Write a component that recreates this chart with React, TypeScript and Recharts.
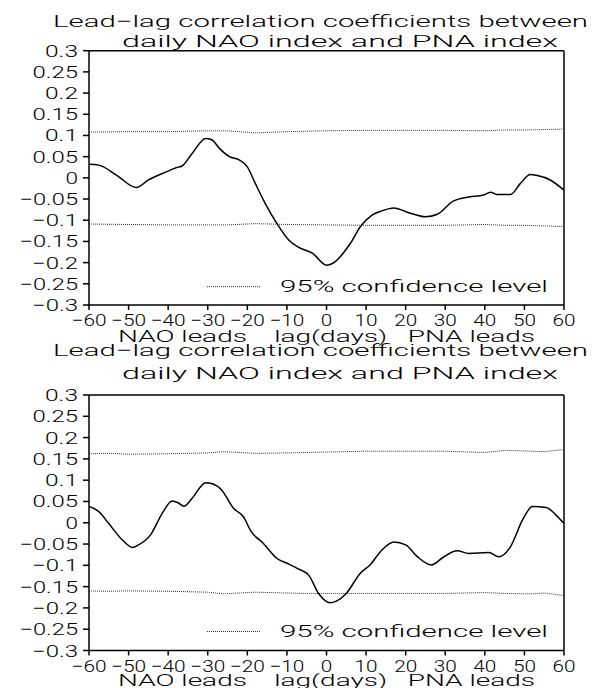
import React from "react";
import { Line, LineChart, ReferenceLine, XAxis, YAxis } from "recharts";

const FONT = 'Roboto, "Liberation Sans", Arial, sans-serif';
const WEIGHT = 300;

// axis ticks
const xTicks = [-60, -50, -40, -30, -20, -10, 0, 10, 20, 30, 40, 50, 60];
const yTicks = [
  -0.3, -0.25, -0.2, -0.15, -0.1, -0.05, 0, 0.05, 0.1, 0.15, 0.2, 0.25, 0.3,
];

// upper panel: correlation curve
const lagsTop = [
  -60, -57.5, -53, -48, -45, -40.5, -38, -36.5, -34, -30.5, -29, -27, -24.5,
  -22, -20, -18, -15.5, -12.5, -9.5, -7, -3.5, 0, 1.5, 6, 8.5, 11.5, 14, 17,
  21, 25, 28, 32, 36, 39.5, 41.5, 43, 46.5, 49, 51.5, 53, 56.5, 60,
];
const corrTop = [
  0.032, 0.03, 0.006, -0.023, -0.005, 0.014, 0.024, 0.028, 0.057, 0.093, 0.09,
  0.069, 0.05, 0.042, 0.026, -0.013, -0.06, -0.108, -0.147, -0.164, -0.178,
  -0.206, -0.202, -0.155, -0.116, -0.088, -0.078, -0.071, -0.083, -0.092,
  -0.086, -0.055, -0.045, -0.041, -0.034, -0.039, -0.039, -0.013, 0.008,
  0.006, -0.005, -0.029,
];
const confLagsTop = [-60, -50, -40, -30, -25, -18, -10, 0, 10, 20, 30, 40, 45, 50, 60];
const upperTop = [
  0.108, 0.109, 0.109, 0.111, 0.111, 0.106, 0.109, 0.111, 0.112, 0.112, 0.112,
  0.111, 0.113, 0.113, 0.115,
];
const lowerTop = [
  -0.109, -0.11, -0.111, -0.111, -0.111, -0.108, -0.11, -0.111, -0.112, -0.112,
  -0.112, -0.11, -0.112, -0.112, -0.115,
];

// lower panel
const lagsBot = [
  -60, -57.5, -55, -51.5, -49, -47.5, -44.5, -41.5, -39, -37.5, -36, -34, -30.5,
  -29, -26.5, -23.5, -21, -19, -16, -12.5, -9.5, -7, -4.5, -2, 1, 2.5, 5, 8.5,
  11, 14, 17, 20, 23, 26.5, 29.5, 33, 36, 41, 43.5, 46.5, 49.5, 52, 55.5, 58, 60,
];
const corrBot = [
  0.038, 0.026, -0.002, -0.041, -0.058, -0.052, -0.029, 0.022, 0.051, 0.047,
  0.039, 0.057, 0.094, 0.092, 0.077, 0.034, 0.014, -0.021, -0.048, -0.084,
  -0.097, -0.109, -0.123, -0.166, -0.188, -0.184, -0.166, -0.119, -0.099,
  -0.064, -0.045, -0.052, -0.08, -0.099, -0.081, -0.066, -0.072, -0.07, -0.08,
  -0.056, 0.006, 0.038, 0.036, 0.018, -0.002,
];
const confLagsBot = [-60, -55, -50, -40, -30, -26, -18, -10, -5, 10, 30, 40, 45, 52, 55, 60];
const upperBot = [
  0.162, 0.163, 0.161, 0.162, 0.164, 0.167, 0.163, 0.164, 0.165, 0.168, 0.168,
  0.165, 0.17, 0.168, 0.167, 0.172,
];
const lowerBot = [
  -0.16, -0.161, -0.16, -0.161, -0.163, -0.167, -0.163, -0.165, -0.166, -0.166,
  -0.166, -0.164, -0.166, -0.167, -0.165, -0.171,
];

const TITLE1 = "Lead\u2212lag correlation coefficients between";
const TITLE2 = "daily NAO index and PNA index";
const XLABEL = "NAO leads    lag(days)   PNA leads";
const LEGEND = "95% confidence level";

const fmt = (v: number) => String(v).replace("-", "\u2212");

// the original font is wide, so labels get stretched to a fixed width
const textW = (s: string, digit: number, minus: number) =>
  s.split("").reduce((w, c) => w + (c === "." ? 8 : c === "\u2212" ? minus : digit), 0);

function YTick(props: any) {
  const { x, y, payload } = props;
  const s = fmt(payload.value);
  return (
    <text
      x={x}
      y={y + 6}
      textAnchor="end"
      fontSize={16.5}
      fontFamily={FONT}
      fontWeight={WEIGHT}
      fill="#000"
      textLength={textW(s, 12.5, 13)}
      lengthAdjust="spacingAndGlyphs"
    >
      {s}
    </text>
  );
}

function XTick(props: any) {
  const { x, y, payload } = props;
  const s = fmt(payload.value);
  return (
    <text
      x={x}
      y={y + 16}
      textAnchor="middle"
      fontSize={16.5}
      fontFamily={FONT}
      fontWeight={WEIGHT}
      fill="#000"
      textLength={textW(s, 11.5, 12)}
      lengthAdjust="spacingAndGlyphs"
    >
      {s}
    </text>
  );
}

type PanelProps = {
  lags: number[];
  corr: number[];
  confLags: number[];
  upper: number[];
  lower: number[];
  plotTop: number;
  plotBottom: number;
};

function Panel({ lags, corr, confLags, upper, lower, plotTop, plotBottom }: PanelProps) {
  const main = lags.map((lag, i) => ({ lag, r: corr[i] }));
  const up = confLags.map((lag, i) => ({ lag, r: upper[i] }));
  const lo = confLags.map((lag, i) => ({ lag, r: lower[i] }));
  const axis = { stroke: "#000", strokeWidth: 1.5 };
  return (
    <LineChart
      width={599}
      height={344}
      margin={{ top: plotTop, right: 35, bottom: 0, left: 0 }}
    >
      <XAxis
        type="number"
        dataKey="lag"
        domain={[-60, 60]}
        ticks={xTicks}
        interval={0}
        allowDataOverflow
        height={344 - plotBottom}
        tickSize={5}
        tickMargin={0}
        axisLine={axis}
        tickLine={axis}
        tick={<XTick />}
      />
      <YAxis
        type="number"
        domain={[-0.3, 0.3]}
        ticks={yTicks}
        interval={0}
        allowDataOverflow
        width={89}
        tickSize={6}
        tickMargin={5}
        axisLine={axis}
        tickLine={axis}
        tick={<YTick />}
      />
      <ReferenceLine y={0.3} stroke="#000" strokeWidth={1.5} />
      <ReferenceLine x={60} stroke="#000" strokeWidth={1.5} />
      <Line
        data={up}
        dataKey="r"
        type="linear"
        stroke="#333"
        strokeWidth={1}
        strokeDasharray="1 1"
        dot={false}
        isAnimationActive={false}
      />
      <Line
        data={lo}
        dataKey="r"
        type="linear"
        stroke="#333"
        strokeWidth={1}
        strokeDasharray="1 1"
        dot={false}
        isAnimationActive={false}
      />
      <Line
        data={main}
        dataKey="r"
        type="monotone"
        stroke="#000"
        strokeWidth={1.5}
        dot={false}
        isAnimationActive={false}
      />
    </LineChart>
  );
}

function Texts({ off, t1, t2, leg }: { off: number; t1: number; t2: number; leg: number }) {
  const common = {
    fontSize: 16.5,
    fontFamily: FONT,
    fontWeight: WEIGHT,
    fill: "#000",
    lengthAdjust: "spacingAndGlyphs" as const,
  };
  return (
    <g transform={`translate(0,${off})`}>
      <text x={53} y={t1} textLength={535} {...common}>
        {TITLE1}
      </text>
      <text x={122} y={t2} textLength={436} {...common}>
        {TITLE2}
      </text>
      <line x1={207} x2={260} y1={leg - 5} y2={leg - 5} stroke="#333" strokeWidth={1} strokeDasharray="1 1" />
      <text x={280} y={leg} textLength={268} {...common}>
        {LEGEND}
      </text>
      <text x={118} y={342} textLength={417} {...common} style={{ whiteSpace: "pre" }}>
        {XLABEL}
      </text>
    </g>
  );
}

export default function App() {
  return (
    <div style={{ position: "absolute", left: 0, top: 0, width: 599, height: 688, background: "#fff" }}>
      <div style={{ position: "absolute", left: 0, top: 0 }}>
        <Panel
          lags={lagsTop}
          corr={corrTop}
          confLags={confLagsTop}
          upper={upperTop}
          lower={lowerTop}
          plotTop={50.7}
          plotBottom={305}
        />
      </div>
      <div style={{ position: "absolute", left: 0, top: 344 }}>
        <Panel
          lags={lagsBot}
          corr={corrBot}
          confLags={confLagsBot}
          upper={upperBot}
          lower={lowerBot}
          plotTop={51}
          plotBottom={306.5}
        />
      </div>
      <svg
        width={599}
        height={688}
        style={{ position: "absolute", left: 0, top: 0, pointerEvents: "none" }}
      >
        <Texts off={0} t1={27} t2={47} leg={291.7} />
        <Texts off={344} t1={12} t2={35} leg={292.5} />
      </svg>
    </div>
  );
}
